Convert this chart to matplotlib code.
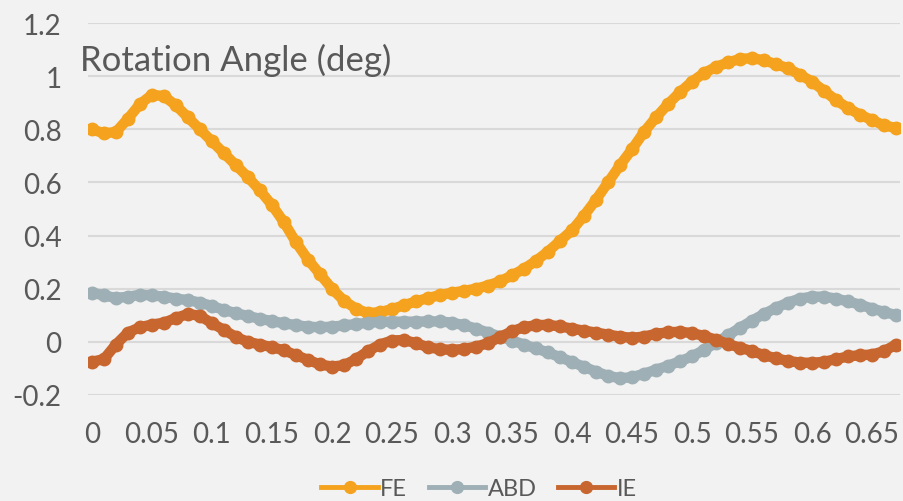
import numpy as np
import matplotlib
matplotlib.use("Agg")
import matplotlib.pyplot as plt
from matplotlib.lines import Line2D

plt.rcParams['font.family'] = ['Lato', 'DejaVu Sans']

time = [round(0.01 * i, 2) for i in range(68)]

fe = [0.80, 0.785, 0.79, 0.84, 0.895, 0.93, 0.925, 0.89, 0.845, 0.80,
      0.755, 0.71, 0.665, 0.62, 0.57, 0.515, 0.45, 0.375, 0.31, 0.255,
      0.20, 0.155, 0.125, 0.108, 0.112, 0.123, 0.138, 0.152, 0.165, 0.176,
      0.185, 0.192, 0.20, 0.212, 0.228, 0.25, 0.275, 0.305, 0.34, 0.38,
      0.42, 0.475, 0.535, 0.60, 0.665, 0.725, 0.79, 0.845, 0.895, 0.94,
      0.98, 1.012, 1.035, 1.052, 1.065, 1.068, 1.06, 1.045, 1.03, 1.005,
      0.98, 0.945, 0.91, 0.88, 0.855, 0.835, 0.815, 0.805]

abd = [0.185, 0.175, 0.165, 0.17, 0.177, 0.175, 0.17, 0.163, 0.157, 0.148,
       0.135, 0.12, 0.108, 0.097, 0.087, 0.078, 0.07, 0.063, 0.057, 0.055,
       0.057, 0.062, 0.067, 0.072, 0.075, 0.076, 0.076, 0.076, 0.077, 0.077,
       0.072, 0.063, 0.05, 0.035, 0.02, 0.005, -0.01, -0.025, -0.04, -0.058,
       -0.076, -0.094, -0.112, -0.128, -0.137, -0.133, -0.12, -0.105, -0.09, -0.073,
       -0.055, -0.03, -0.004, 0.025, 0.053, 0.08, 0.105, 0.128, 0.148, 0.163,
       0.17, 0.17, 0.163, 0.152, 0.14, 0.125, 0.113, 0.10]

ie = [-0.075, -0.065, -0.01, 0.035, 0.055, 0.065, 0.072, 0.09, 0.105, 0.098,
      0.07, 0.045, 0.018, 0.0, -0.01, -0.02, -0.032, -0.05, -0.068, -0.085,
      -0.093, -0.088, -0.065, -0.035, -0.01, 0.005, 0.007, -0.005, -0.02, -0.028,
      -0.03, -0.027, -0.018, -0.005, 0.018, 0.04, 0.055, 0.063, 0.064, 0.058,
      0.05, 0.042, 0.035, 0.027, 0.02, 0.015, 0.02, 0.03, 0.036, 0.038,
      0.033, 0.022, 0.008, -0.008, -0.022, -0.035, -0.05, -0.062, -0.072, -0.078,
      -0.079, -0.075, -0.065, -0.055, -0.05, -0.048, -0.035, -0.01]

series_names = ['FE', 'ABD', 'IE']
colors = ['#F5A31F', '#9EAFB5', '#C8662F']

xticks = [0, 0.05, 0.1, 0.15, 0.2, 0.25, 0.3, 0.35, 0.4, 0.45, 0.5, 0.55, 0.6, 0.65]
xtick_labels = ['0', '0.05', '0.1', '0.15', '0.2', '0.25', '0.3', '0.35', '0.4',
                '0.45', '0.5', '0.55', '0.6', '0.65']
yticks = [-0.2, 0, 0.2, 0.4, 0.6, 0.8, 1.0, 1.2]
ytick_labels = ['-0.2', '0', '0.2', '0.4', '0.6', '0.8', '1', '1.2']

bg = '#F2F2F2'
fig = plt.figure(figsize=(9.04, 5.02), dpi=100, facecolor=bg)
ax = fig.add_axes([0.0973, 0.2112, 0.8983, 0.7408], facecolor=bg)

for name, vals, c in zip(series_names, [fe, abd, ie], colors):
    ax.plot(time, vals, color=c, lw=7.5, marker='o', ms=9, mec=c, mfc=c,
            solid_capstyle='round', solid_joinstyle='round', zorder=3)

ax.set_xlim(-0.0033, 0.6733)
ax.set_ylim(-0.2, 1.2)
ax.set_xticks(xticks)
ax.set_xticklabels(xtick_labels)
ax.set_yticks(yticks)
ax.set_yticklabels(ytick_labels)
ax.tick_params(axis='both', length=0, labelsize=20, labelcolor='#595959')
ax.tick_params(axis='y', pad=19)
ax.tick_params(axis='x', pad=19)
ax.grid(axis='y', color='#D9D9D9', lw=1.5, zorder=0)
ax.set_axisbelow(True)
for s in ax.spines.values():
    s.set_visible(False)

fig.text(80 / 904, 1 - 60 / 502, 'Rotation Angle (deg)', fontsize=25,
         color='#595959', ha='left', va='center')

handles = [Line2D([], [], color=c, lw=3.5, marker='o', ms=8.5, mec=c, mfc=c)
           for c in colors]
leg = fig.legend(handles, series_names, loc='center',
                 bbox_to_anchor=(0.53, 1 - 490 / 502), ncol=3,
                 frameon=False, fontsize=17, labelcolor='#595959',
                 handlelength=2.4, handletextpad=0.1, columnspacing=0.9,
                 numpoints=1)

fig.savefig('out.png', dpi=100, facecolor=bg)
